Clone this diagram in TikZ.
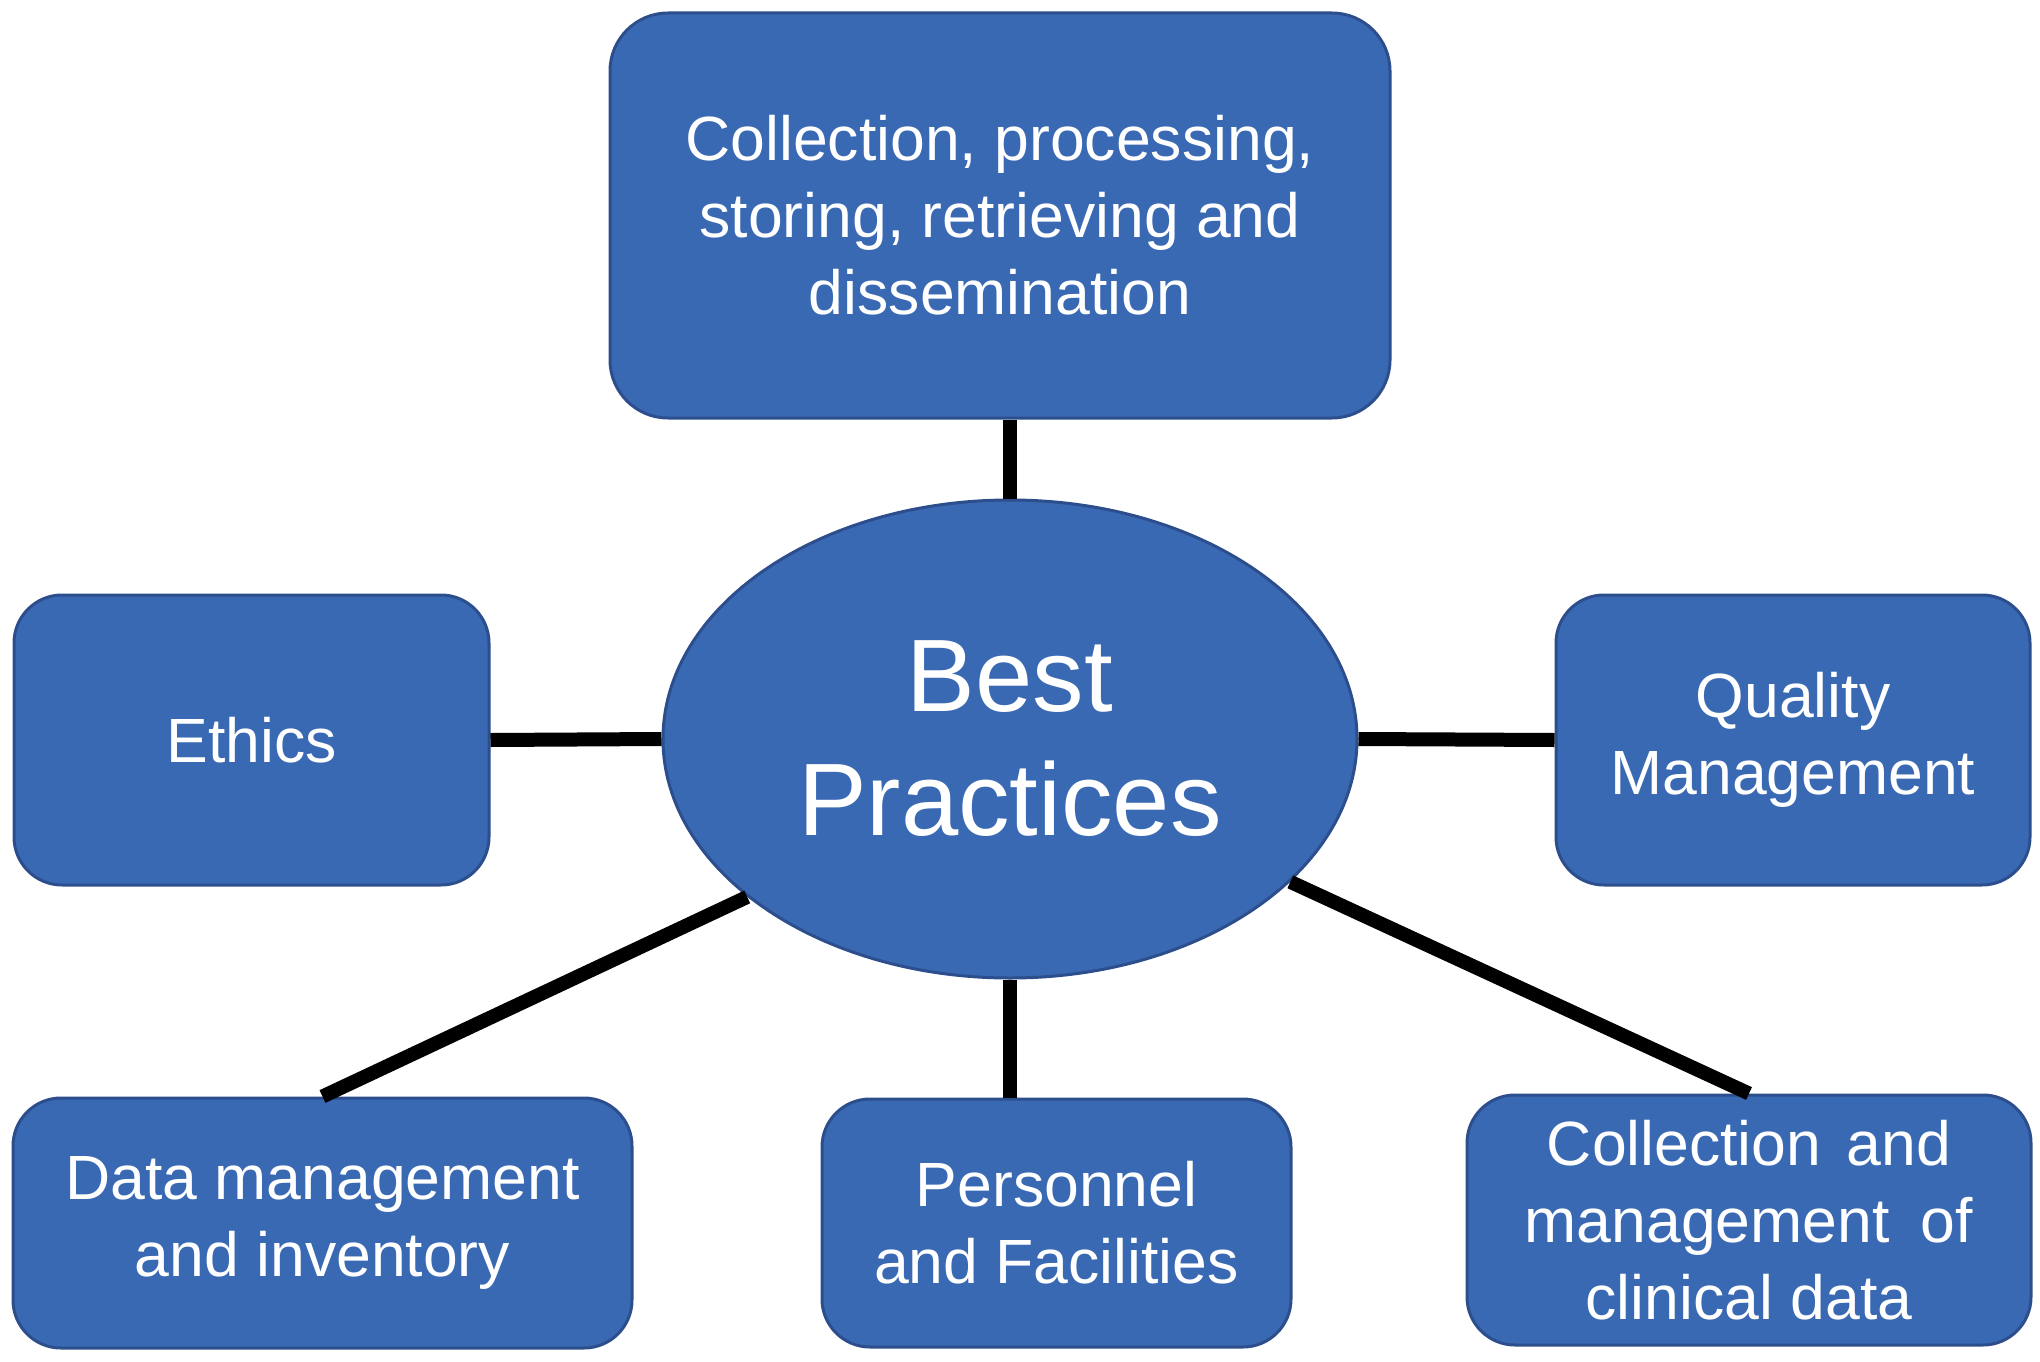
\documentclass[tikz,border=0pt]{standalone}
\usepackage{fontspec}
\setmainfont{Liberation Sans}
\usetikzlibrary{shapes.geometric}
\definecolor{boxfill}{HTML}{3A69B3}
\definecolor{boxline}{HTML}{2C4E8C}
\begin{document}
\begin{tikzpicture}[x=1pt,y=-1pt,
  box/.style={draw=boxline, fill=boxfill, line width=3pt, rounded corners=48pt,
    text=white, align=center, inner sep=0pt,
    font=\fontsize{62.5}{77}\selectfont},
  hub/.style={ellipse, draw=boxline, fill=boxfill, line width=3pt, text=white,
    align=center, inner sep=0pt, minimum width=694pt, minimum height=478pt,
    font=\fontsize{103}{124}\selectfont},
  link/.style={line width=14pt, draw=black}]
\useasboundingbox (0,0) rectangle (2040,1362);

\node[box, rounded corners=58pt, minimum width=780pt, minimum height=405pt] (top) at (1000,215.5)
  {Collection, processing,\\storing, retrieving and\\dissemination};
\node[box, minimum width=475pt, minimum height=290pt] (eth) at (251.5,740) {Ethics};
\node[box, minimum width=474pt, minimum height=290pt] (qm) at (1793,740) {Quality\\Management};
\node[box, minimum width=619pt, minimum height=250pt] (dm) at (322.5,1223)
  {Data management\\and inventory};
\node[box, minimum width=469pt, minimum height=248pt] (pers) at (1056.5,1223)
  {Personnel\\and Facilities};
\node[box, minimum width=564pt, minimum height=250pt] (cc) at (1749,1220)
  {Collection\hspace{8pt} and\\management\hspace{14pt} of\\clinical data};
\node[hub] (hub) at (1010,739) {Best\\Practices};

\draw[link] (hub.north) -- (hub.north |- top.south);
\draw[link] (hub.south) -- (hub.south |- pers.north);
\draw[link] (eth.east) -- (hub.west);
\draw[link] (hub.east) -- (qm.west);
\draw[link] (hub.211.7) -- (dm.north);
\draw[link] (hub.333.5) -- (cc.north);
\end{tikzpicture}
\end{document}
